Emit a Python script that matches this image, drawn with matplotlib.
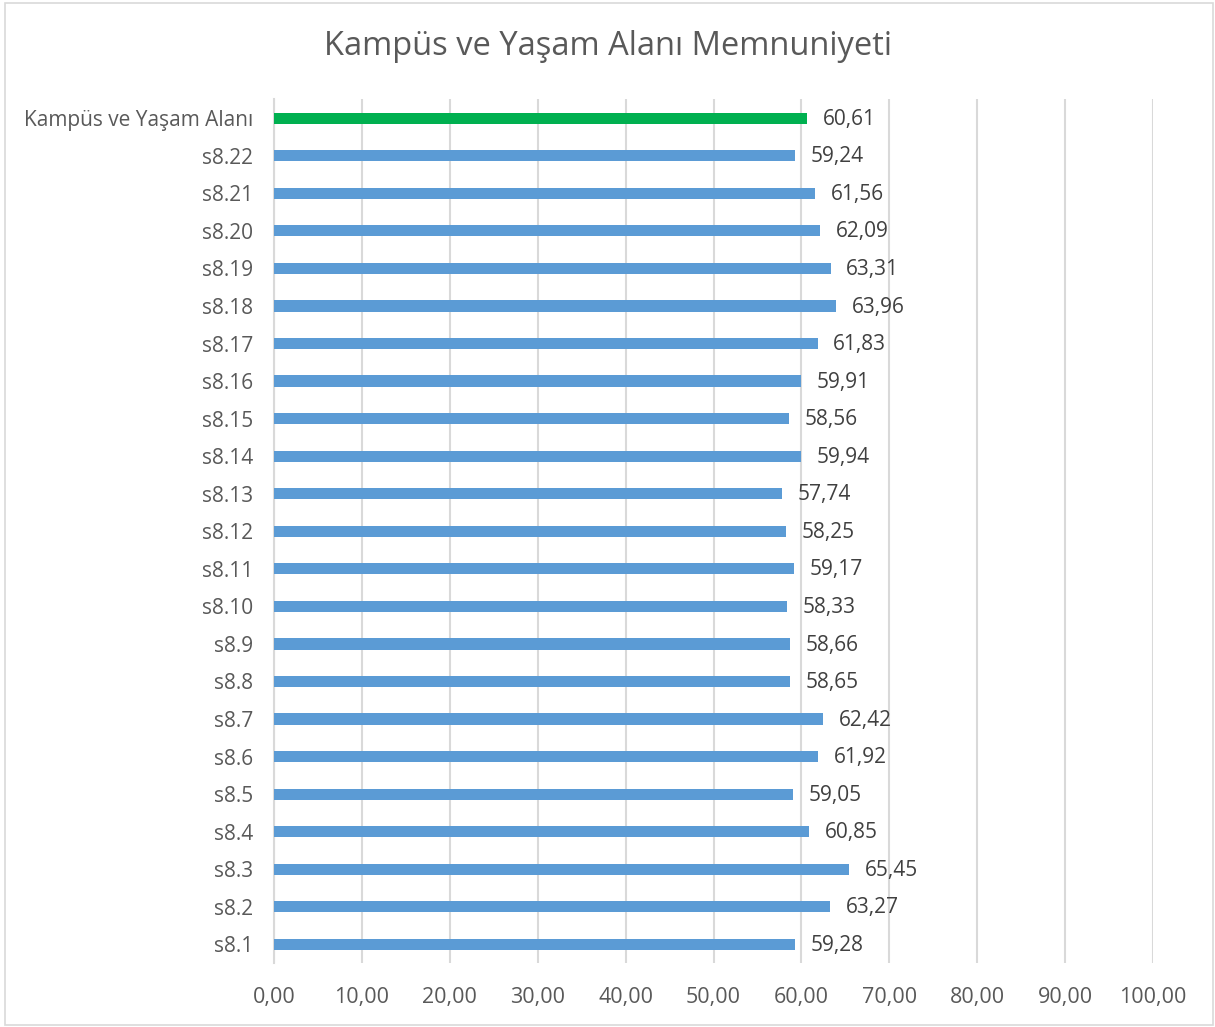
import matplotlib
matplotlib.use("Agg")
import matplotlib.pyplot as plt
from matplotlib.patches import Rectangle

categories = ["s8.1", "s8.2", "s8.3", "s8.4", "s8.5", "s8.6", "s8.7", "s8.8", "s8.9",
              "s8.10", "s8.11", "s8.12", "s8.13", "s8.14", "s8.15", "s8.16", "s8.17",
              "s8.18", "s8.19", "s8.20", "s8.21", "s8.22", "Kampüs ve Yaşam Alanı"]
values = [59.28, 63.27, 65.45, 60.85, 59.05, 61.92, 62.42, 58.65, 58.66,
          58.33, 59.17, 58.25, 57.74, 59.94, 58.56, 59.91, 61.83,
          63.96, 63.31, 62.09, 61.56, 59.24, 60.61]
colors = ["#5B9BD5"] * 22 + ["#00B050"]
xticks = [0, 10, 20, 30, 40, 50, 60, 70, 80, 90, 100]
title = "Kampüs ve Yaşam Alanı Memnuniyeti"

plt.rcParams['font.family'] = ['Open Sans', 'DejaVu Sans']
txt = "#595959"

fig = plt.figure(figsize=(12.15, 10.27), dpi=100)
fig.patches.append(Rectangle((0.004, 0.002), 0.994, 0.995, transform=fig.transFigure,
                             fill=False, edgecolor="#D9D9D9", linewidth=1.2))
ax = fig.add_axes([0.2255, 0.0622, 0.7235, 0.8410])
y = list(range(len(categories)))
ax.barh(y, values, height=0.3, color=colors, zorder=3)
for yi, v in zip(y, values):
    ax.text(v + 1.8, yi - 0.03, f"{v:.2f}".replace(".", ","), va="center", ha="left",
            fontsize=15, color="#404040")
ax.set_xlim(0, 100)
ax.set_ylim(-0.5, len(categories) - 0.5)
ax.set_xticks(xticks)
ax.set_xticklabels([f"{t:.2f}".replace(".", ",") for t in xticks], fontsize=15.5, color=txt)
ax.set_yticks(y)
ax.set_yticklabels(categories, fontsize=15, color=txt)
ax.tick_params(axis="both", length=0)
ax.tick_params(axis="x", pad=17)
ax.tick_params(axis="y", pad=15)
ax.grid(axis="x", color="#D9D9D9", linewidth=1.5, zorder=0)
for s in ["top", "right", "bottom"]:
    ax.spines[s].set_visible(False)
ax.spines["left"].set_color("#D9D9D9")
ax.spines["left"].set_linewidth(1.5)
fig.text(0.5, 0.955, title, ha="center", va="center", fontsize=23.5, color=txt)
fig.savefig("out.png", dpi=100, facecolor="white")
